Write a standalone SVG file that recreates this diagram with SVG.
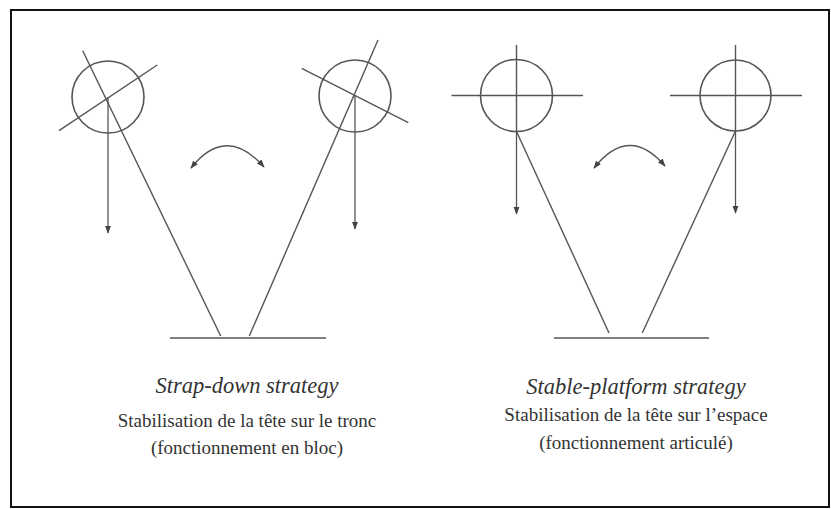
<svg xmlns="http://www.w3.org/2000/svg" width="831" height="509" viewBox="0 0 831 509">
<defs>
<marker id="ah" viewBox="0 0 10 10" refX="9" refY="5" markerWidth="8" markerHeight="8" markerUnits="userSpaceOnUse" orient="auto-start-reverse">
<path d="M0,1.2 L10,5 L0,8.8 Z" fill="#444"/>
</marker>
<style>
.ln{stroke:#555;stroke-width:1.4;fill:none}
.hd{stroke:#555;stroke-width:1.6;fill:none}
.ar{stroke:#555;stroke-width:1.3;fill:none;marker-end:url(#ah)}
.cv{stroke:#555;stroke-width:1.4;fill:none;marker-start:url(#ah);marker-end:url(#ah)}
.t{font-family:"Liberation Serif","Times New Roman",serif;font-size:19px;fill:#333;text-anchor:middle}
.it{font-style:italic;font-size:22.5px}
</style>
</defs>
<rect x="11" y="10" width="818" height="497" fill="#fff" stroke="#111" stroke-width="2"/>
<g id="left-figure">
<g id="head-l1">
<circle class="hd" cx="108" cy="97" r="36"/>
<line class="ln" x1="59" y1="130.7" x2="157.3" y2="65"/>
<line class="ln" x1="82.7" y1="50.7" x2="220.7" y2="336"/>
</g>
<g id="head-l2">
<circle class="hd" cx="355" cy="96" r="36"/>
<line class="ln" x1="301.7" y1="68.3" x2="408.3" y2="122.7"/>
<line class="ln" x1="378" y1="40" x2="249.3" y2="336"/>
</g>
<g id="ground-l">
<line class="ln" x1="170" y1="338" x2="326" y2="338"/>
</g>
</g>
<g id="right-figure">
<g id="head-r1">
<circle class="hd" cx="516.5" cy="95.5" r="36"/>
<line class="ln" x1="451.5" y1="95.5" x2="583" y2="95.5"/>
<line class="ln" x1="516.5" y1="45" x2="516.5" y2="131.5"/>
<line class="ln" x1="516.5" y1="131.5" x2="609" y2="333"/>
</g>
<g id="head-r2">
<circle class="hd" cx="735.5" cy="95.5" r="35.5"/>
<line class="ln" x1="670" y1="95.5" x2="802" y2="95.5"/>
<line class="ln" x1="735.5" y1="45" x2="735.5" y2="131"/>
<line class="ln" x1="735.5" y1="131" x2="642.3" y2="333"/>
</g>
<g id="ground-r">
<line class="ln" x1="554" y1="338" x2="709" y2="338"/>
</g>
</g>
<g id="connectors">
<line class="ar" x1="108" y1="97" x2="108" y2="233"/>
<line class="ar" x1="355" y1="96" x2="355" y2="229"/>
<line class="ar" x1="516.5" y1="131.5" x2="516.5" y2="214"/>
<line class="ar" x1="735.5" y1="131" x2="735.5" y2="213"/>
<path class="cv" d="M191,168 Q226,124 264,167"/>
<path class="cv" d="M594,168 Q629,124 665,166"/>
</g>
<g id="labels">
<text class="t it" x="247" y="393">Strap-down strategy</text>
<text class="t" x="247" y="427">Stabilisation de la tête sur le tronc</text>
<text class="t" x="247" y="454">(fonctionnement en bloc)</text>
<text class="t it" x="636" y="394">Stable-platform strategy</text>
<text class="t" x="636" y="421">Stabilisation de la tête sur l’espace</text>
<text class="t" x="636" y="449">(fonctionnement articulé)</text>
</g>
</svg>
